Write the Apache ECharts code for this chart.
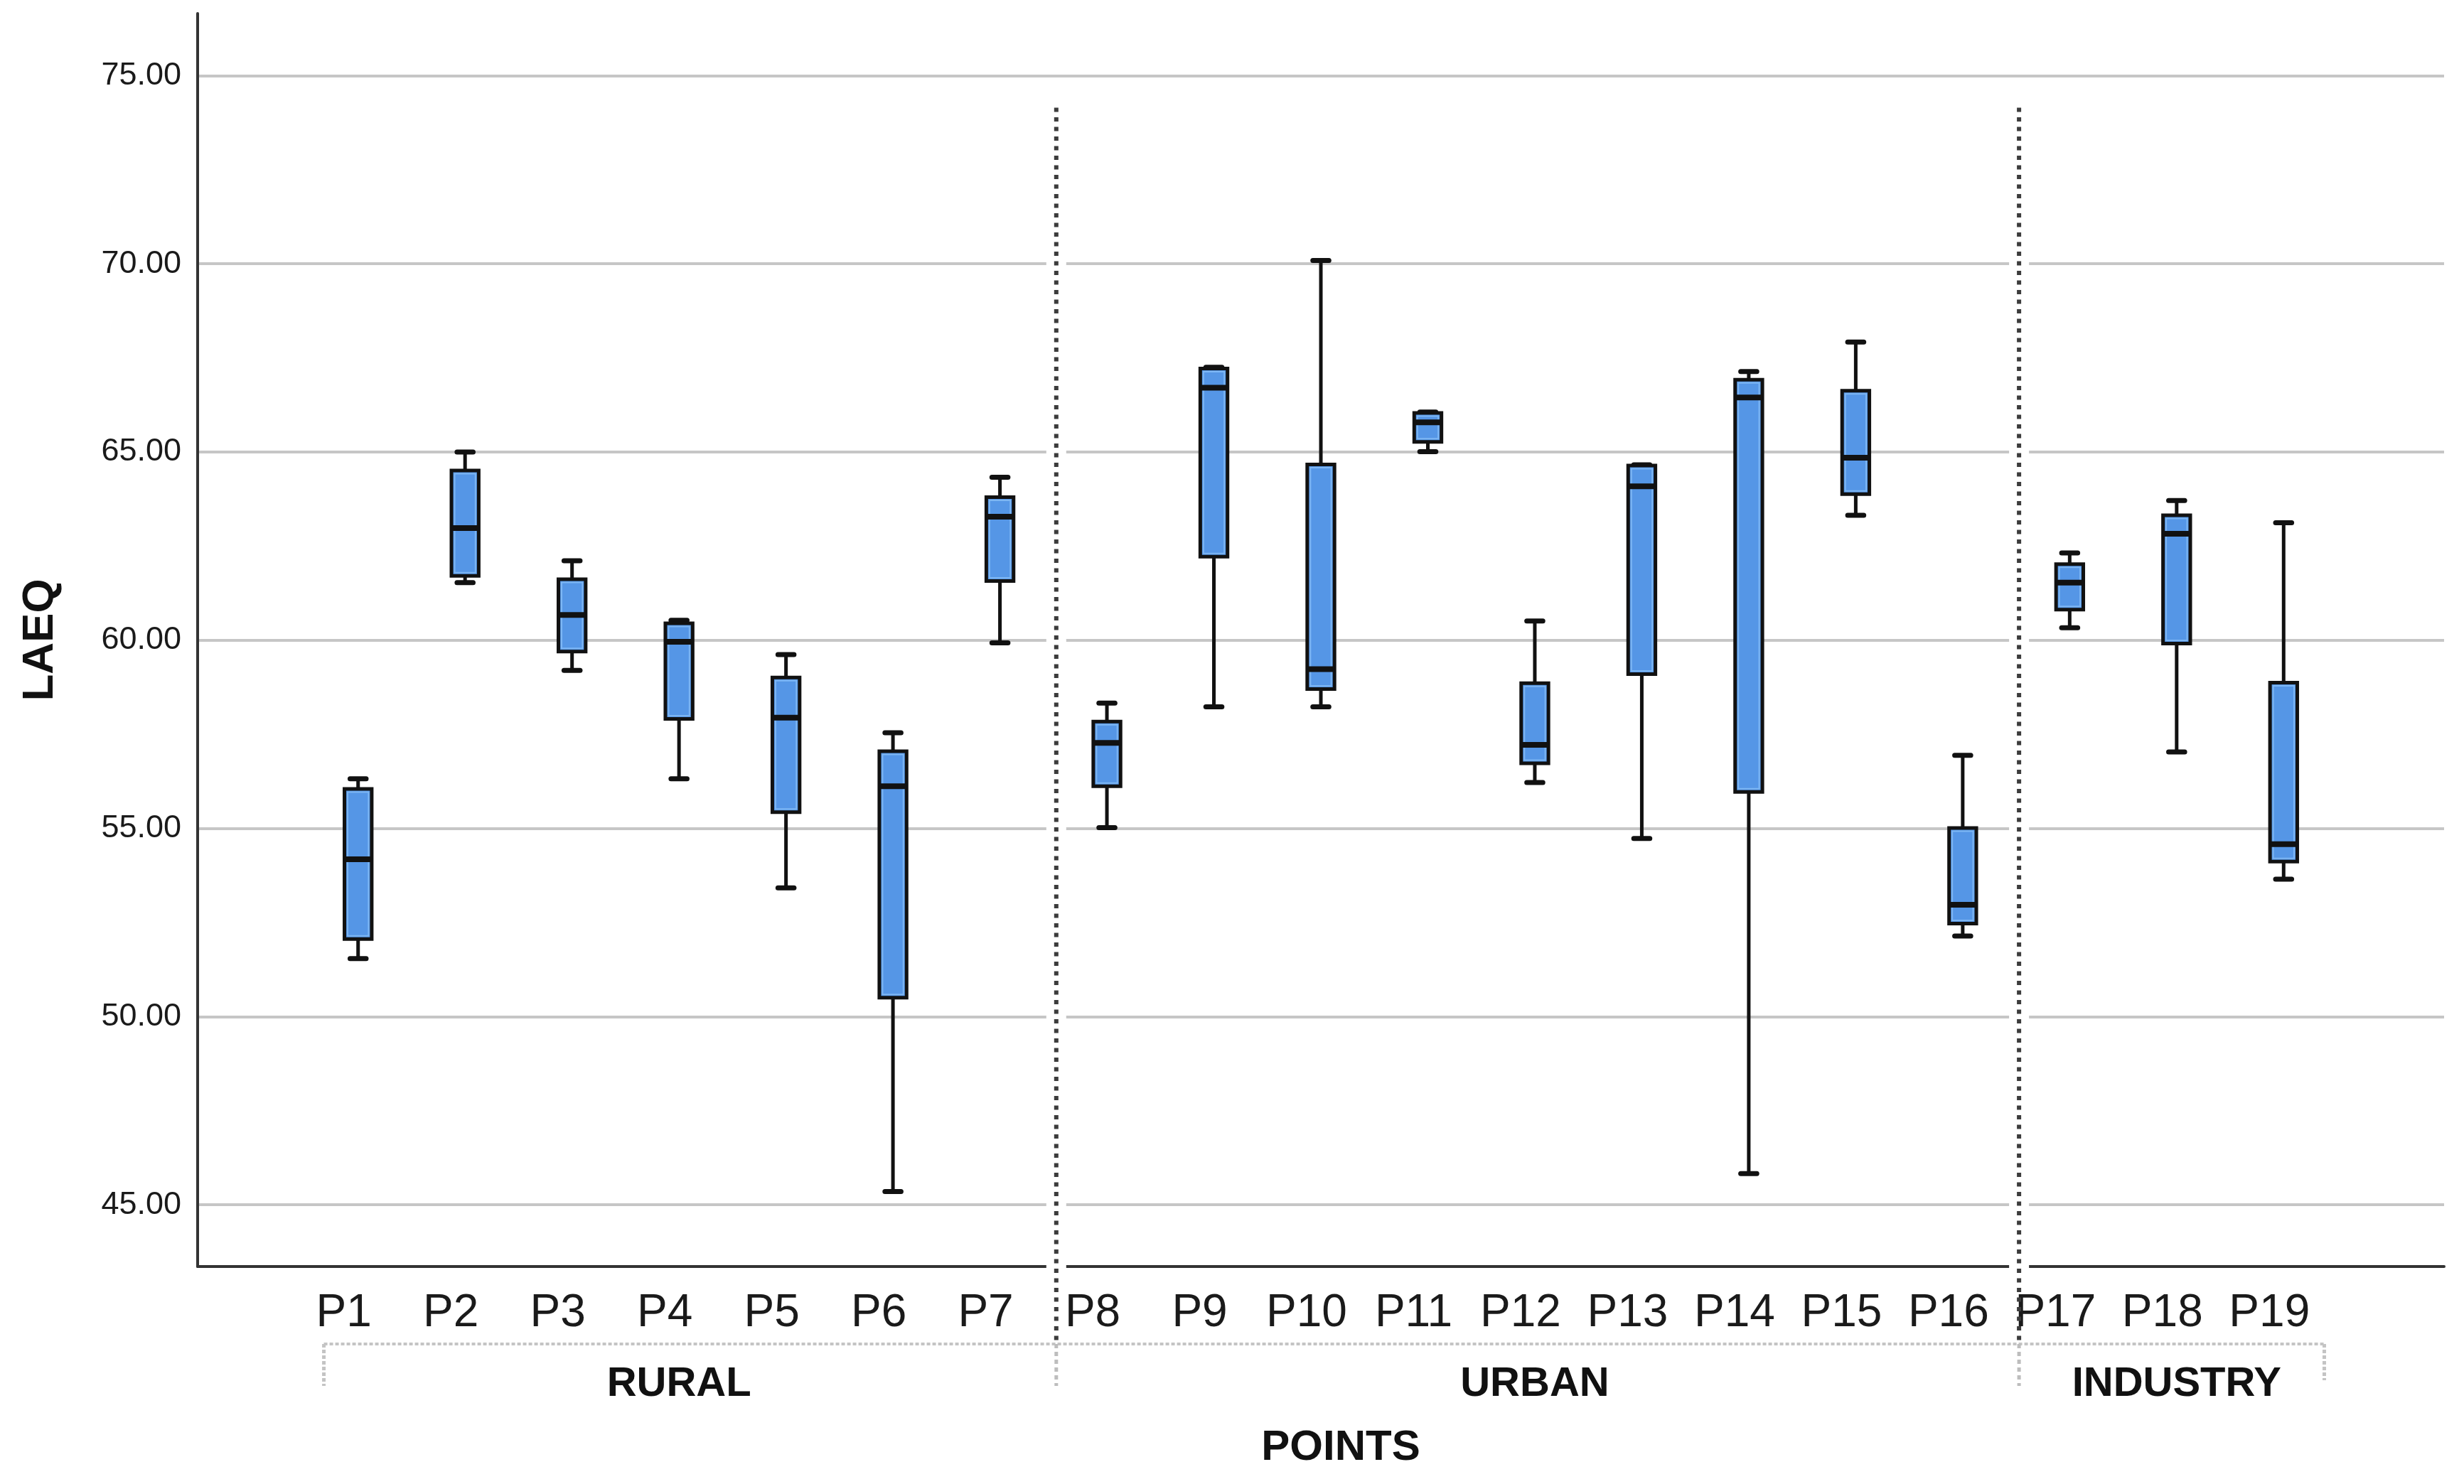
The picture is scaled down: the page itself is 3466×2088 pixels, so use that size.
<!DOCTYPE html>
<html>
<head>
<meta charset="utf-8">
<script src="https://cdn.jsdelivr.net/npm/echarts@6/dist/echarts.min.js"></script>
<style>
html,body{margin:0;padding:0;background:#ffffff;}
#c{width:3466px;height:2088px;}
</style>
</head>
<body>
<div id="c"></div>
<script>
// ---------- data ----------
const categories = ['P1','P2','P3','P4','P5','P6','P7','P8','P9','P10','P11','P12','P13','P14','P15','P16','P17','P18','P19'];
const whiskerLow  = [51.54, 61.53, 59.20, 56.32, 53.42, 45.35, 59.93, 55.02, 58.23, 58.23, 65.01, 56.22, 54.73, 45.83, 63.32, 52.14, 60.33, 57.03, 53.65];
const quartile1   = [52.06, 61.71, 59.70, 57.91, 55.43, 50.50, 61.57, 56.12, 62.22, 58.70, 65.27, 56.73, 59.10, 55.97, 63.88, 52.47, 60.81, 59.91, 54.12];
const medianVals  = [54.18, 62.98, 60.67, 59.96, 57.94, 56.12, 63.28, 57.27, 66.71, 59.23, 65.79, 57.22, 64.09, 66.45, 64.85, 52.97, 61.53, 62.83, 54.58];
const quartile3   = [56.05, 64.51, 61.62, 60.45, 59.01, 57.05, 63.80, 57.84, 67.22, 64.67, 66.04, 58.86, 64.64, 66.92, 66.63, 55.01, 62.02, 63.32, 58.87];
const whiskerHigh = [56.32, 65.00, 62.11, 60.53, 59.62, 57.54, 64.33, 58.33, 67.25, 70.09, 66.06, 60.51, 64.66, 67.14, 67.92, 56.94, 62.32, 63.71, 63.12];
const yTickValues = [45, 50, 55, 60, 65, 70, 75];
const yMin = 43.36;
const yMax = 76.65;
const groupNames = ['RURAL', 'URBAN', 'INDUSTRY'];
const groupFirst = ['P1', 'P8', 'P17'];
const groupLast  = ['P7', 'P16', 'P19'];

// ---------- build ----------
const axisCats = [''].concat(categories, ['']);
const rows = categories.map((c, i) => [c, whiskerLow[i], quartile1[i], medianVals[i], quartile3[i], whiskerHigh[i]]);
const FONT = '"Liberation Sans", Arial, sans-serif';

function renderBox(params, api) {
  const x = api.value(0);
  const lo = api.coord([x, api.value(1)]);
  const b1 = api.coord([x, api.value(2)]);
  const md = api.coord([x, api.value(3)]);
  const b3 = api.coord([x, api.value(4)]);
  const hi = api.coord([x, api.value(5)]);
  const band = api.size([1, 0])[0];
  const cx = lo[0];
  const bw = band * 0.255;
  const cw = band * 0.15;
  const black = '#111111';
  return {
    type: 'group',
    children: [
      { type: 'line', shape: { x1: cx, y1: hi[1], x2: cx, y2: lo[1] }, style: { stroke: black, lineWidth: 5 } },
      { type: 'line', shape: { x1: cx - cw / 2, y1: hi[1], x2: cx + cw / 2, y2: hi[1] }, style: { stroke: black, lineWidth: 7, lineCap: 'round' } },
      { type: 'line', shape: { x1: cx - cw / 2, y1: lo[1], x2: cx + cw / 2, y2: lo[1] }, style: { stroke: black, lineWidth: 7, lineCap: 'round' } },
      { type: 'rect', shape: { x: cx - bw / 2, y: b3[1], width: bw, height: b1[1] - b3[1] }, style: { fill: '#5596E6', stroke: black, lineWidth: 5 } },
      { type: 'rect', shape: { x: cx - bw / 2 + 4.5, y: b3[1] + 4.5, width: bw - 9, height: Math.max(0, b1[1] - b3[1] - 9) }, style: { fill: 'none', stroke: '#7DB6F3', lineWidth: 2 } },
      { type: 'line', shape: { x1: cx - bw / 2, y1: md[1], x2: cx + bw / 2, y2: md[1] }, style: { stroke: black, lineWidth: 8 } }
    ]
  };
}

const option = {
  backgroundColor: '#ffffff',
  animation: false,
  grid: { left: 278, right: 28, top: 19, bottom: 306, containLabel: false },
  xAxis: {
    type: 'category',
    data: axisCats,
    boundaryGap: true,
    axisLine: { show: true, lineStyle: { color: '#333333', width: 4 } },
    axisTick: { show: false },
    splitLine: { show: false },
    axisLabel: {
      interval: 0, margin: 34, fontSize: 64, color: '#1a1a1a', fontFamily: FONT,
      padding: [0, 40, 0, 0]
    },
    name: 'POINTS',
    nameLocation: 'middle',
    nameGap: 225,
    nameTextStyle: { fontSize: 60, fontWeight: 'bold', color: '#111111', fontFamily: FONT, padding: [0, 0, 0, 56] }
  },
  yAxis: {
    type: 'value',
    min: yMin,
    max: yMax,
    axisLine: { show: true, lineStyle: { color: '#333333', width: 4 } },
    axisTick: { show: false },
    axisLabel: {
      margin: 23, fontSize: 45, color: '#1a1a1a', fontFamily: FONT,
      showMinLabel: false, showMaxLabel: false,
      formatter: v => (yTickValues.indexOf(Math.round(v * 100) / 100) >= 0 ? v.toFixed(2) : '')
    },
    splitLine: { show: true, showMinLine: false, showMaxLine: false, lineStyle: { color: '#c6c6c6', width: 4 } },
    name: 'LAEQ',
    nameLocation: 'middle',
    nameGap: 190,
    nameTextStyle: { fontSize: 62, fontWeight: 'bold', color: '#111111', fontFamily: FONT }
  },
  series: [{
    type: 'custom',
    renderItem: renderBox,
    encode: { x: 0, y: [1, 2, 3, 4, 5] },
    data: rows,
    z: 5
  }]
};

const chart = echarts.init(document.getElementById('c'), null, { renderer: 'canvas', devicePixelRatio: 1 });
chart.setOption(option);

// ---------- decorations positioned from the axes ----------
const xPx = name => chart.convertToPixel({ xAxisIndex: 0 }, axisCats.indexOf(name));
const yPx = v => chart.convertToPixel({ yAxisIndex: 0 }, v);
const band = xPx(categories[1]) - xPx(categories[0]);
const axisY = yPx(yMin);
const topGrid = yPx(yTickValues[yTickValues.length - 1]);
const bracketY = axisY + 109;
const elements = [];

for (let g = 1; g < groupNames.length; g++) {
  const sx = (xPx(groupLast[g - 1]) + xPx(groupFirst[g])) / 2 + 4;
  elements.push({ type: 'rect', z: 50, shape: { x: sx - 14, y: topGrid + 30, width: 28, height: axisY + 10 - topGrid - 30 }, style: { fill: '#ffffff' } });
  elements.push({ type: 'line', z: 51, shape: { x1: sx, y1: topGrid + 45, x2: sx, y2: bracketY }, style: { stroke: '#3c3c3c', lineWidth: 6, lineDash: [6, 7.5] } });
  elements.push({ type: 'line', z: 51, shape: { x1: sx, y1: bracketY, x2: sx, y2: axisY + 168 }, style: { stroke: '#bdbdbd', lineWidth: 5, lineDash: [6, 5] } });
}
const bx1 = xPx(categories[0]) - band * 0.32;
const bx2 = xPx(categories[categories.length - 1]) + band * 0.38;
elements.push({ type: 'line', z: 50, shape: { x1: bx1, y1: bracketY, x2: bx2, y2: bracketY }, style: { stroke: '#c4c4c4', lineWidth: 4, lineDash: [5, 3] } });
elements.push({ type: 'line', z: 50, shape: { x1: bx1, y1: bracketY, x2: bx1, y2: axisY + 168 }, style: { stroke: '#c4c4c4', lineWidth: 5, lineDash: [5, 3] } });
elements.push({ type: 'line', z: 50, shape: { x1: bx2, y1: bracketY, x2: bx2, y2: axisY + 160 }, style: { stroke: '#c4c4c4', lineWidth: 5, lineDash: [5, 3] } });

for (let g = 0; g < groupNames.length; g++) {
  const gx = (xPx(groupFirst[g]) + xPx(groupLast[g])) / 2;
  elements.push({
    type: 'text', z: 52, x: gx, y: axisY + 166,
    style: { text: groupNames[g], fill: '#111111', fontSize: 58, fontWeight: 'bold', fontFamily: FONT,
             align: 'center', verticalAlign: 'middle', textAlign: 'center', textVerticalAlign: 'middle' }
  });
}
chart.setOption({ graphic: { elements: elements } });
</script>
</body>
</html>
